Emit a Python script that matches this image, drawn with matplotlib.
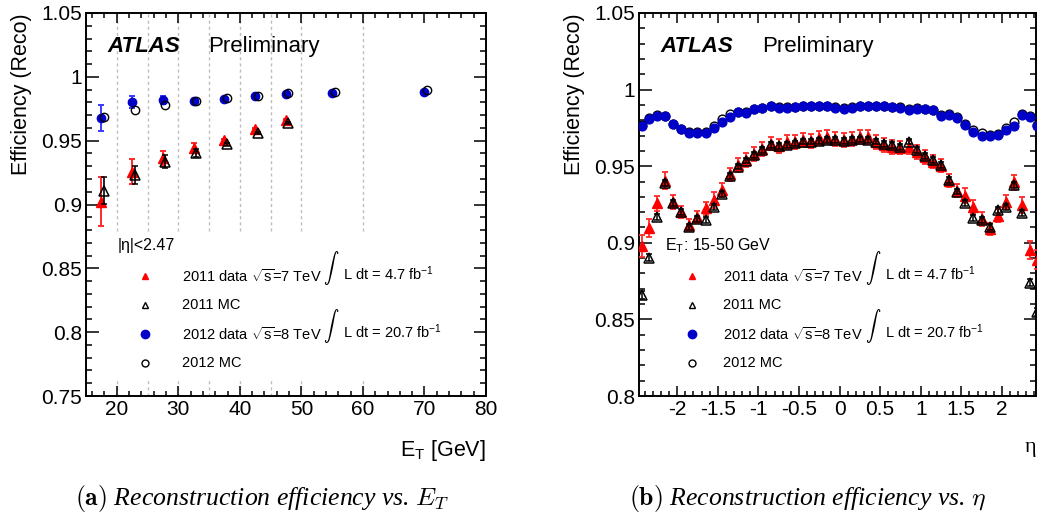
import matplotlib
matplotlib.use("Agg")
import matplotlib.pyplot as plt
from matplotlib.lines import Line2D
from matplotlib.patches import Rectangle
from matplotlib.ticker import MultipleLocator, FuncFormatter

plt.rcParams['font.family'] = ['Liberation Sans', 'DejaVu Sans']
plt.rcParams['mathtext.fontset'] = 'custom'
plt.rcParams['mathtext.rm'] = 'Liberation Sans'
plt.rcParams['mathtext.it'] = 'Liberation Sans:italic'
plt.rcParams['mathtext.bf'] = 'Liberation Sans:bold'
plt.rcParams['mathtext.sf'] = 'Liberation Sans'
plt.rcParams['axes.unicode_minus'] = False

# ---------------- data: efficiency vs E_T ----------------
et_bin_edges = [15, 20, 25, 30, 35, 40, 45, 50, 60, 80]
et_centers = [17.5, 22.5, 27.5, 32.5, 37.5, 42.5, 47.5, 55, 70]
et_data12 = [0.9675, 0.9803, 0.9819, 0.9813, 0.9829, 0.9848, 0.9863, 0.9874, 0.9881]
et_data12_err = [0.0102, 0.0050, 0.0030, 0.0010, 0.0008, 0.0006, 0.0006, 0.0005, 0.0005]
et_mc12 = [0.9688, 0.9738, 0.9780, 0.9811, 0.9834, 0.9852, 0.9874, 0.9881, 0.9895]
et_centers11 = [17.5, 22.5, 27.5, 32.5, 37.5, 42.5, 47.5]
et_data11 = [0.9022, 0.9257, 0.9362, 0.9445, 0.9503, 0.9592, 0.9662]
et_data11_err = [0.0194, 0.0099, 0.0060, 0.0038, 0.0012, 0.0010, 0.0010]
et_mc11 = [0.9108, 0.9231, 0.9336, 0.9401, 0.9472, 0.9558, 0.9641]
et_mc11_err = [0.0104, 0.0072, 0.0052, 0.0030, 0.0010, 0.0008, 0.0008]

# ---------------- data: efficiency vs eta ----------------
eta_centers = [-2.435, -2.35, -2.25, -2.15, -2.05, -1.95, -1.85, -1.75, -1.65, -1.55,
               -1.45, -1.35, -1.25, -1.15, -1.05, -0.95, -0.85, -0.75, -0.65, -0.55,
               -0.45, -0.35, -0.25, -0.15, -0.05, 0.05, 0.15, 0.25, 0.35, 0.45,
               0.55, 0.65, 0.75, 0.85, 0.95, 1.05, 1.15, 1.25, 1.35, 1.45,
               1.55, 1.65, 1.75, 1.85, 1.95, 2.05, 2.15, 2.25, 2.35, 2.435]
eta_data12 = [0.9762, 0.9806, 0.9828, 0.9828, 0.9773, 0.9741, 0.9719, 0.9715, 0.9719, 0.9752,
              0.9791, 0.9823, 0.9852, 0.9850, 0.9871, 0.9882, 0.9893, 0.9882, 0.9882, 0.9888,
              0.9895, 0.9893, 0.9893, 0.9893, 0.9883, 0.9876, 0.9883, 0.9893, 0.9893, 0.9895,
              0.9893, 0.9888, 0.9883, 0.9867, 0.9876, 0.9872, 0.9865, 0.9828, 0.9835, 0.9812,
              0.9768, 0.9724, 0.9700, 0.9695, 0.9703, 0.9735, 0.9762, 0.9835, 0.9823, 0.9762]
eta_data12_err = [0.0012, 0.0010, 0.0010, 0.0010, 0.0010, 0.0010, 0.0010, 0.0010, 0.0010, 0.0010,
                  0.0008, 0.0008, 0.0008, 0.0008, 0.0008, 0.0008, 0.0008, 0.0008, 0.0008, 0.0008,
                  0.0008, 0.0008, 0.0008, 0.0008, 0.0008, 0.0008, 0.0008, 0.0008, 0.0008, 0.0008,
                  0.0008, 0.0008, 0.0008, 0.0008, 0.0008, 0.0008, 0.0008, 0.0008, 0.0008, 0.0008,
                  0.0010, 0.0010, 0.0010, 0.0010, 0.0010, 0.0010, 0.0010, 0.0010, 0.0010, 0.0012]
eta_mc12 = [0.9770, 0.9815, 0.9832, 0.9830, 0.9778, 0.9745, 0.9722, 0.9720, 0.9725, 0.9760,
            0.9805, 0.9840, 0.9855, 0.9852, 0.9872, 0.9883, 0.9892, 0.9884, 0.9885, 0.9889,
            0.9893, 0.9892, 0.9892, 0.9892, 0.9885, 0.9880, 0.9885, 0.9892, 0.9892, 0.9893,
            0.9892, 0.9888, 0.9884, 0.9875, 0.9877, 0.9873, 0.9866, 0.9832, 0.9838, 0.9818,
            0.9778, 0.9735, 0.9715, 0.9705, 0.9712, 0.9750, 0.9790, 0.9838, 0.9826, 0.9768]
eta_data11 = [0.8980, 0.9095, 0.9258, 0.9405, 0.9268, 0.9203, 0.9115, 0.9170, 0.9224, 0.9280,
              0.9343, 0.9446, 0.9510, 0.9543, 0.9578, 0.9610, 0.9648, 0.9631, 0.9659, 0.9659,
              0.9670, 0.9665, 0.9685, 0.9692, 0.9680, 0.9672, 0.9680, 0.9692, 0.9692, 0.9659,
              0.9640, 0.9627, 0.9622, 0.9625, 0.9591, 0.9558, 0.9530, 0.9504, 0.9406, 0.9341,
              0.9308, 0.9232, 0.9155, 0.9090, 0.9178, 0.9264, 0.9395, 0.9247, 0.8953, 0.8890]
eta_data11_err = [0.0070, 0.0060, 0.0050, 0.0055, 0.0045, 0.0040, 0.0040, 0.0040, 0.0040, 0.0050,
                  0.0045, 0.0045, 0.0045, 0.0045, 0.0045, 0.0045, 0.0045, 0.0045, 0.0045, 0.0045,
                  0.0045, 0.0045, 0.0045, 0.0045, 0.0045, 0.0045, 0.0045, 0.0045, 0.0045, 0.0045,
                  0.0045, 0.0045, 0.0045, 0.0045, 0.0045, 0.0045, 0.0045, 0.0045, 0.0045, 0.0045,
                  0.0050, 0.0045, 0.0045, 0.0040, 0.0040, 0.0045, 0.0050, 0.0050, 0.0060, 0.0060]
eta_mc11 = [0.8660, 0.8903, 0.9170, 0.9392, 0.9262, 0.9203, 0.9105, 0.9155, 0.9149, 0.9236,
            0.9319, 0.9436, 0.9497, 0.9536, 0.9573, 0.9606, 0.9638, 0.9632, 0.9638, 0.9649,
            0.9660, 0.9660, 0.9666, 0.9671, 0.9671, 0.9666, 0.9671, 0.9675, 0.9671, 0.9660,
            0.9644, 0.9638, 0.9624, 0.9660, 0.9606, 0.9567, 0.9541, 0.9508, 0.9410, 0.9334,
            0.9262, 0.9160, 0.9149, 0.9105, 0.9214, 0.9236, 0.9377, 0.9193, 0.8740, 0.8550]
eta_mc11_err = [0.0025, 0.0022, 0.0020, 0.0020, 0.0020, 0.0020, 0.0020, 0.0020, 0.0020, 0.0020,
                0.0018, 0.0018, 0.0018, 0.0018, 0.0018, 0.0018, 0.0018, 0.0018, 0.0018, 0.0018,
                0.0018, 0.0018, 0.0018, 0.0018, 0.0018, 0.0018, 0.0018, 0.0018, 0.0018, 0.0018,
                0.0018, 0.0018, 0.0018, 0.0018, 0.0018, 0.0018, 0.0018, 0.0018, 0.0018, 0.0018,
                0.0020, 0.0020, 0.0020, 0.0020, 0.0020, 0.0020, 0.0020, 0.0020, 0.0022, 0.0025]

legend_labels = ["2011 data $\\sqrt{\\mathrm{s}}$=7 TeV", "2011 MC",
                 "2012 data $\\sqrt{\\mathrm{s}}$=8 TeV", "2012 MC"]
lumi_labels = ["L dt = 4.7 fb$^{\\mathrm{-1}}$", "L dt = 20.7 fb$^{\\mathrm{-1}}$"]

RED = '#ff0000'
RED_E = '#ff2a2a'
BLUE = '#0000c8'
BLUE_E = '#3a3aff'

fig = plt.figure(figsize=(10.42, 5.25), dpi=100)
ax1 = fig.add_axes([86 / 1042, 1 - 396 / 525, 400 / 1042, 383 / 525])
ax2 = fig.add_axes([639 / 1042, 1 - 396 / 525, 397 / 1042, 383 / 525])

fmt = FuncFormatter(lambda v, p: ('%g' % round(v, 4)))


def style(ax):
    ax.tick_params(which='both', direction='in', top=True, right=True,
                   width=1.1, colors='black', labelsize=15)
    ax.tick_params(axis='y', which='major', length=9, pad=3)
    ax.tick_params(axis='y', which='minor', length=4.5)
    ax.tick_params(axis='x', which='major', length=7.5, pad=3)
    ax.tick_params(axis='x', which='minor', length=3.5)
    for s in ax.spines.values():
        s.set_linewidth(1.4)
    ax.yaxis.set_major_locator(MultipleLocator(0.05))
    ax.yaxis.set_minor_locator(MultipleLocator(0.01))
    ax.yaxis.set_major_formatter(fmt)
    ax.xaxis.set_major_formatter(fmt)


# ---------------- left panel ----------------
ax = ax1
style(ax)
ax.set_xlim(15, 80)
ax.set_ylim(0.75, 1.05)
ax.xaxis.set_major_locator(MultipleLocator(10))
ax.xaxis.set_minor_locator(MultipleLocator(2))
for e in et_bin_edges[1:-1]:
    ax.axvline(e, color='#bdbdbd', lw=1.0, ls=(0, (2.2, 2.2)), zorder=0.5)
ax.add_patch(Rectangle((18.3, 0.7642), 80 - 18.3, 0.8777 - 0.7642,
                       facecolor='white', edgecolor='none', zorder=1))

shift = 0.4
ax.errorbar(et_centers11, et_data11, yerr=et_data11_err, fmt='^', ms=6.5,
            color=RED, ecolor=RED_E, elinewidth=1.4, capsize=2.5, capthick=1.4, zorder=3)
ax.errorbar([c + shift for c in et_centers11], et_mc11, yerr=et_mc11_err, fmt='^', ms=6.5,
            mfc='none', mec='black', mew=1.1, ecolor='black', elinewidth=1.2,
            capsize=2.5, capthick=1.2, zorder=4)
ax.errorbar(et_centers, et_data12, yerr=et_data12_err, fmt='o', ms=6,
            mfc=BLUE, mec=BLUE, ecolor=BLUE_E, elinewidth=1.4, capsize=2.5,
            capthick=1.4, zorder=3)
ax.errorbar([c + shift for c in et_centers], et_mc12, fmt='o', ms=6,
            mfc='none', mec='black', mew=1.0, zorder=4)

ax.set_ylabel('Efficiency (Reco)', fontsize=15.5, loc='top')
ax.yaxis.set_label_coords(-0.135, 1.0)
ax.set_xlabel('E$_{\\mathrm{T}}$ [GeV]', fontsize=15.5, loc='right')
ax.xaxis.set_label_coords(1.0, -0.11)

# ---------------- right panel ----------------
ax = ax2
style(ax)
ax.set_xlim(-2.47, 2.42)
ax.set_ylim(0.8, 1.05)
ax.xaxis.set_major_locator(MultipleLocator(0.5))
ax.xaxis.set_minor_locator(MultipleLocator(0.1))

ax.errorbar(eta_centers, eta_mc12, fmt='o', ms=6.3, mfc='none', mec='black',
            mew=1.0, zorder=2)
ax.errorbar(eta_centers, eta_data12, yerr=eta_data12_err, fmt='o', ms=6.3,
            mfc=BLUE, mec=BLUE, ecolor=BLUE_E, elinewidth=1.2, capsize=2,
            capthick=1.2, zorder=3)
ax.errorbar(eta_centers, eta_data11, yerr=eta_data11_err, fmt='^', ms=6.5,
            color=RED, ecolor=RED_E, elinewidth=1.3, capsize=2.5, capthick=1.3, zorder=4)
ax.errorbar(eta_centers, eta_mc11, yerr=eta_mc11_err, fmt='^', ms=6.5,
            mfc='none', mec='black', mew=1.1, ecolor='black', elinewidth=1.1,
            capsize=2.5, capthick=1.1, zorder=5)

ax.set_ylabel('Efficiency (Reco)', fontsize=15.5, loc='top')
ax.yaxis.set_label_coords(-0.136, 1.0)
ax.set_xlabel('η', fontsize=16, loc='right', family=['Liberation Serif', 'DejaVu Serif'])
ax.xaxis.set_label_coords(1.0, -0.11)

# ---------------- annotations / legends ----------------
handles = [
    dict(marker='^', ms=5, mfc=RED, mec=RED, mew=1.0),
    dict(marker='^', ms=5, mfc='none', mec='black', mew=1.0),
    dict(marker='o', ms=6, mfc=BLUE, mec=BLUE, mew=1.0),
    dict(marker='o', ms=5, mfc='none', mec='black', mew=1.0),
]
row_y = [0.3133, 0.2363, 0.1619, 0.0862]

for ax, x_atl, x_pre, head, x_head, x_mk, x_txt, x_int, x_lumi in [
        (ax1, 0.0525, 0.305, '|η|<2.47', 0.078, 0.1475, 0.24, 0.612, 0.6425),
        (ax2, 0.055, 0.31, 'E$_{\\mathrm{T}}$: 15-50 GeV', 0.0655, 0.1335, 0.2116, 0.589, 0.62)]:
    ax.text(x_atl, 0.898, 'ATLAS', transform=ax.transAxes, fontsize=16,
            fontweight='bold', fontstyle='italic', va='baseline', ha='left', zorder=6)
    ax.text(x_pre, 0.898, 'Preliminary', transform=ax.transAxes, fontsize=16,
            va='baseline', ha='left', zorder=6)
    ax.text(x_head, 0.392, head, transform=ax.transAxes, fontsize=11.5,
            va='center', ha='left', zorder=6)
    for h, lab, yy in zip(handles, legend_labels, row_y):
        ax.add_line(Line2D([x_mk], [yy], transform=ax.transAxes, ls='none',
                           zorder=6, clip_on=False, **h))
        ax.text(x_txt, yy, lab, transform=ax.transAxes, fontsize=10.5,
                va='center', ha='left', zorder=6)
    for lab, yy, yi in zip(lumi_labels, [row_y[0], row_y[2]], [0.334, 0.182]):
        ax.text(x_int, yi, r'$\int$', transform=ax.transAxes, fontsize=11,
                math_fontfamily='cm', va='center', ha='center', zorder=6)
        ax.text(x_lumi, yy + 0.006, lab, transform=ax.transAxes, fontsize=10.5,
                va='center', ha='left', zorder=6)

# ---------------- captions ----------------
fig.text(262 / 1042, 1 - 499 / 525,
         r'$\mathbf{(a)}$ Reconstruction efficiency vs. $E_T$',
         family=['Liberation Serif', 'DejaVu Serif'], fontstyle='italic',
         math_fontfamily='cm', fontsize=18.5, ha='center', va='center')
fig.text(808 / 1042, 1 - 499 / 525,
         r'$\mathbf{(b)}$ Reconstruction efficiency vs. $\eta$',
         family=['Liberation Serif', 'DejaVu Serif'], fontstyle='italic',
         math_fontfamily='cm', fontsize=18.5, ha='center', va='center')

fig.savefig('out.png', dpi=100)
